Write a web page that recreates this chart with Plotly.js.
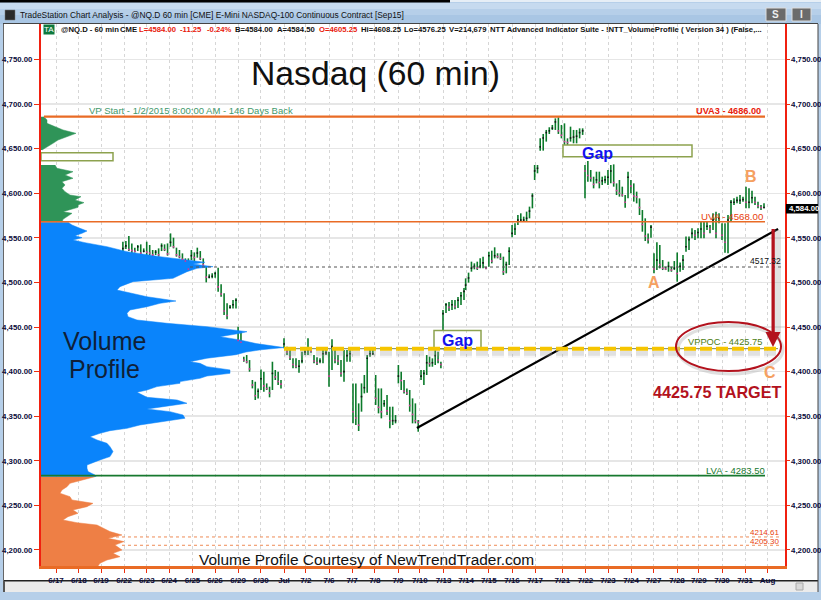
<!DOCTYPE html>
<html><head><meta charset="utf-8">
<script src="https://cdn.plot.ly/plotly-3.0.1.min.js"></script>
<style>html,body{margin:0;padding:0;background:#fff}#c{width:821px;height:600px}</style>
</head><body><div id="c"></div>
<script>
// ---- x axis: tick labels and their position in bar slots
const dateLabels=['6/17','6/18','6/19','6/22','6/23','6/24','6/25','6/26','6/29','6/30','Jul','7/2','7/6','7/7','7/8','7/9','7/10','7/13','7/14','7/15','7/16','7/17','7/21','7/22','7/23','7/24','7/27','7/28','7/29','7/30','7/31','Aug'];
const dateSlots=[5,12.6,20,27.7,35.3,42.7,50.5,58,65.7,73.3,81,88.3,96,103.7,111.3,119,126.3,134.2,141.7,149.3,157,164.7,173.8,181.5,189,196.7,204.2,212,219.3,227,234.7,242.2];
const priceTicks=[4200,4250,4300,4350,4400,4450,4500,4550,4600,4650,4700,4750];

// ---- hourly bars, grouped in unbroken runs
const runStart=[27.3,65.7,81,104,134,141.55,164.55,166.4,181.33,204.33,215];
const runEnd=[65,80,103,133.3,141,163.8,165.5,180.55,203.33,214,241];
const runBars=[39,16,23,32,8,24,2,15,24,11,27];
const highs=[4545.7,4546.5,4552.1,4543.8,4539,4542,4542.7,4538.2,4545.7,4542,4536.4,4536.4,4538.2,4543.8,4542.7,4543.8,4555,4550.2,4539,4536.4,4532.6,4527,4527,4536.4,4533.7,4539,4535.2,4527,4517.7,4509.1,4510.2,4512.1,4516.6,4497.9,4487.8,4476.6,4474.7,4480.3,4482.2,
4450.4,4444.8,4416.8,4418.6,4413,4390.6,4388.7,4381.2,4402.5,4399.9,4386.8,4383.1,4411.1,4401.8,4399.9,4390.6,
4437.3,4428,4424.2,4414.9,4414.9,4413,4422.4,4424.2,4437.3,4424.2,4418.6,4416,4414.9,4424.2,4424.2,4422.4,4436.2,4426.1,4418.6,4413,4424.2,4424.2,4424.2,
4386.8,4386.8,4364.4,4386.8,4396.2,4418.6,4424.2,4424.2,4396.2,4381.2,4381.2,4368.2,4373.8,4360.7,4360.7,4351.3,4407.4,4399.9,4390.6,4381.2,4379.4,4370,4364.4,4345.7,4401.8,4401.8,4418.6,4416.8,4414.9,4424.2,4422.4,4411.1,
4469,4477,4478,4480.3,4480.3,4483.7,4489.3,4493.8,
4504.6,4511,4523.3,4521.4,4523.3,4527,4528.9,4517.7,4534.5,4535.6,4539.4,4532.7,4532.7,4528.9,4523.3,4539.4,4564.4,4566.3,4575.7,4577.5,4573.8,4579.4,4585,4599.9,
4631.7,4631.7,
4661.6,4666.5,4671,4674,4676.6,4684,4685.2,4676.6,4678.4,4661.6,4674.7,4671,4671,4672.8,4672.8,
4631.7,4636.2,4626.1,4618.6,4624.2,4624.2,4618.6,4619.7,4626.1,4631.7,4632.4,4611.1,4614.9,4607.4,4598,4624.2,4614.9,4611.1,4601.8,4594.3,4581.2,4571.9,4555,4564.4,
4532.6,4545,4542,4525.2,4517.7,4523.3,4517.7,4524,4533.7,4522.5,4530.8,
4551.4,4551.4,4560.7,4558.8,4560.7,4568.2,4568.2,4568.2,4564.4,4577.5,4579.4,4577.5,4566.3,4566.3,4575.7,4592.5,4594.3,4596.2,4598.1,4596.2,4607.4,4605.6,4602.9,4596.2,4590.6,4586.9,4588.7];
const lows=[4534.5,4537.5,4535.2,4532.6,4533.7,4535.2,4531.5,4533.7,4530.8,4530,4528.9,4530.8,4528.9,4535.2,4535.2,4530,4540.1,4538.2,4528.9,4527,4523.3,4523.3,4513.9,4525.1,4523.3,4527.8,4525.1,4517.7,4500.1,4504.6,4504.6,4505.3,4489.6,4484,4463.5,4458.6,4470.9,4470.9,4470.9,
4429.8,4429.8,4411.1,4409.3,4399.9,4381.2,4368.2,4370,4379.4,4377.5,4379.4,4371.2,4379.4,4390.6,4385,4381.2,
4426.1,4418.6,4413,4403.7,4403.7,4398.8,4409.3,4418.6,4418.6,4421.2,4409.3,4407.4,4409.3,4409.3,4418.6,4383.1,4401.8,4409.3,4407.4,4394.3,4388.7,4411.1,4411.1,
4342,4340.1,4333.4,4355.1,4375.6,4376.4,4416.8,4418.6,4362.6,4353.2,4347.6,4360.7,4351.3,4336.4,4340.1,4342,4386.8,4379.4,4375.6,4373.8,4355.1,4342,4342,4332.6,4390.6,4385,4396.2,4405.5,4405.5,4407.4,4409.3,4403.7,
4446.7,4465.8,4468,4469,4470,4471.3,4474.7,4480.3,
4491.5,4499.8,4512.1,4514.7,4514,4515.8,4515.8,4514.7,4517.7,4521.4,4527,4527,4525.2,4508.4,4510.2,4519.6,4550.6,4553.2,4564.4,4568.2,4568.2,4568.2,4571.9,4583.1,
4614.9,4622.4,
4647.8,4647.8,4657.9,4666.5,4671,4671,4666.5,4661.6,4654.2,4654.2,4657.9,4656,4656,4661.6,4665.4,
4594.3,4613,4613,4605.5,4611.1,4605.5,4609.3,4611.1,4609.3,4611.1,4607.4,4598,4596.2,4596.2,4583.8,4594.3,4599.9,4590.6,4588.7,4575.6,4556.9,4546.5,4543.8,4550.2,
4510.2,4513.9,4515.8,4513.9,4513.9,4512,4512,4513.9,4500.9,4512,4513.9,
4534.5,4536.4,4549.5,4547.6,4549.5,4549.5,4549.5,4558.8,4555.1,4558.8,4549.5,4566.3,4547.6,4533.4,4532.7,4568.2,4586.9,4588.7,4588,4590.6,4583.1,4583.1,4588.7,4586.9,4583.1,4581.3,4583.1];
const closes=[4538,4541,4537,4536,4535,4540,4533,4535,4534,4533,4531,4534,4531,4541,4537,4532,4545,4540,4531,4529,4526,4524,4515,4530,4528,4533,4527,4520,4506,4506,4507,4510,4495,4487,4468,4463,4472,4475,4480,
4435,4433,4413,4411,4403,4385,4373,4378,4392,4384,4381,4376,4398,4394,4389,4386,
4431,4422,4416,4408,4406,4406,4412,4422,4424,4423,4412,4410,4412,4420,4421,4395,4428,4413,4412,4398,4400,4418,4420,
4355,4348,4340,4372,4382,4415,4420,4420,4370,4360,4355,4364,4356,4345,4345,4345,4395,4390,4378,4376,4362,4352,4345,4343,4395,4398,4410,4409,4410,4418,4413,4408,
4465,4475,4472,4475,4473,4480,4485,4490,
4497,4505,4516,4518,4516,4518,4522,4516,4530,4524,4530,4529,4527,4512,4520,4535,4555,4560,4570,4570,4570,4572,4580,4597,
4625,4628,
4652,4662,4668,4670,4673,4680,4670,4665,4658,4657,4662,4663,4664,4668,4670,
4625,4620,4617,4610,4615,4612,4614,4615,4618,4625,4612,4603,4600,4598,4590,4618,4608,4597,4596,4584,4565,4552,4548,4562,
4515,4525,4520,4516,4515,4518,4514,4516,4510,4518,4525,
4540,4548,4555,4553,4556,4560,4555,4563,4560,4570,4555,4572,4553,4545,4570,4590,4590,4592,4592,4593,4590,4590,4595,4590,4586,4584,4584];

// ---- volume profile outline (price, volume) per value-area zone
const upperPrice=[4685.9,4682.2,4678.4,4674.7,4671,4667.2,4663.5,4659.7,4656,4652.3,4648.5];
const upperVol=[3,6,6,14,22,35,26,17,12,6,1];
const greenPrice=[4631.7,4628,4624.2,4620.5,4616.8,4613,4609.3,4605.5,4601.8,4598,4596.2,4592.5,4589.5,4586.9,4584.2,4582,4579.4,4577.5,4573.8,4570.8,4567.4];
const greenVol=[14,16,32,24,32,21,24,21,24,29,40,34,43,37,37,29,22,31,26,22,21];
const bluePrice=[4567.4,4564.4,4560.7,4557.7,4555.1,4552.5,4550.2,4547.6,4544.6,4540.1,4534.5,4528.9,4525.2,4522.6,4520.7,4517.7,4515.8,4512.1,4508.4,4504.6,4500.9,4495.3,4491.5,4488.5,4484,4479.2,4476.6,4472.8,4469.1,4465.4,4461.6,4457.9,4454.2,4450.4,4446.7,4444.8,4442.9,4439.2,4435.5,4431.5,4427,4424.5,4422,4419,4415,4411.2,4409.3,4405.6,4401.9,4398.1,4395.1,4392.5,4388.8,4386.9,4383.2,4379.4,4376.8,4373.8,4371.2,4368.2,4364.5,4360.7,4358.1,4355.1,4351.4,4347.7,4343.9,4340.2,4336.4,4333.8,4330.8,4327.1,4323.4,4319.6,4315.9,4310.3,4304.7,4301,4295.3,4291.6,4287.9,4284.1,4282.2];
const blueVol=[27,31,39,46,41,34,41,32,44,66,86,119,146,164,152,172,156,146,139,132,92,79,76,89,106,135,119,106,89,86,87,96,126,166,196,206,199,179,199,215,243,220,205,195,166,149,159,166,189,189,166,159,139,139,116,106,96,102,106,136,146,122,106,129,142,144,122,99,86,69,59,49,56,66,69,72,69,59,46,46,47,54,55];
const orangePrice=[4282.2,4278.5,4274.8,4271,4267.3,4263.6,4259.8,4256.1,4252.3,4248.6,4244.9,4241.1,4237.4,4233.6,4230.6,4228,4224.3,4220.6,4216.8,4213.1,4209.4,4205.6,4200,4196.3,4192.5,4188.8,4185.1,4182.1];
const orangeVol=[54,42,29,26,21,19,29,31,52,46,32,37,27,22,36,56,62,69,81,67,83,74,81,72,79,66,59,57];
const volPerSlot=3;

// ---- levels and drawing
const levelUVA3=4686, levelUVA=4568, levelPOC=4425.75, levelLVA=4283.5, levelMid=4517.32, levelLow1=4214.61, levelLow2=4205.3, lastPrice=4584;
const trendSlot=[125.3,245.7], trendPrice=[4336.7,4560];

const X=x=>(x-41)/744, Y=y=>(566-y)/542;
const S=x=>(x-41)/3;
const FONT='Liberation Sans, Arial, sans-serif';

// bar positions
const barSlot=[];
runBars.forEach((n,i)=>{for(let k=0;k<n;k++)barSlot.push(n>1?runStart[i]+(runEnd[i]-runStart[i])*k/(n-1):runStart[i]);});
const closeColors=closes.map((c,i)=>i&&c<closes[i-1]?'#d4349a':'#111111');

function zone(prices,vols,color){return {type:'scatter',mode:'lines',x:vols.map(v=>v/volPerSlot),y:prices,fill:'tozerox',fillcolor:color,line:{color:color,width:0.5},hoverinfo:'skip',showlegend:false,xaxis:'x',yaxis:'y'};}
const traces=[
 zone(upperPrice,upperVol,'#2f9458'),
 zone(greenPrice,greenVol,'#2f9458'),
 zone(bluePrice,blueVol,'#0a84fb'),
 zone(orangePrice,orangeVol,'#ee7f45'),
 {type:'scatter',mode:'lines',x:trendSlot,y:trendPrice,line:{color:'#000',width:2.2},hoverinfo:'skip',showlegend:false},
 {type:'ohlc',x:barSlot,open:closes,high:highs,low:lows,close:closes,tickwidth:0,
  increasing:{line:{color:'#0b7a2a',width:1.6}},decreasing:{line:{color:'#0b7a2a',width:1.6}},hoverinfo:'skip',showlegend:false},
 {type:'scatter',mode:'markers',x:barSlot,y:closes,marker:{symbol:'square',size:1.6,color:closeColors},hoverinfo:'skip',showlegend:false},
 {type:'scatter',mode:'markers',x:[barSlot[barSlot.length-1]],y:[lastPrice],yaxis:'y2',marker:{size:1,color:'rgba(0,0,0,0)'},hoverinfo:'skip',showlegend:false}
];

function pRect(x0,y0,x1,y1,fill,line,lw,layer){return {type:'rect',xref:'paper',yref:'paper',x0:X(x0),x1:X(x1),y0:Y(y0),y1:Y(y1),fillcolor:fill,line:{color:line||fill,width:lw==null?0:lw},layer:layer||'below'};}
function hLevel(price,x0,x1,color,w,dash,op){return {type:'line',xref:'x',yref:'y',x0:S(x0),x1:S(x1),y0:price,y1:price,line:{color:color,width:w,dash:dash||'solid'},opacity:op==null?1:op,layer:'above'};}
const shadowPrice=levelPOC-5.2;
const shapes=[
 // window chrome
 pRect(0,0,821,24,'#b6cfe9'),
 pRect(0,3,821,9,'#c6daef'),
 pRect(0,15,821,24,'#a9c6e4'),
 pRect(0,0,450,2.5,'#000'),
 pRect(450,0,821,2,'#e6eef6'),
 pRect(0,24,3,600,'#b6cfe9'),
 pRect(818,24,821,600,'#b6cfe9'),
 pRect(0,592,821,600,'#b6cfe9'),
 pRect(3,581,818,592,'#ebebeb'),
 pRect(3,580,818,581.5,'#222'),
 pRect(3,23,818,24,'#444'),
 pRect(3,24,4,581,'#666'),
 pRect(817.5,24,818.5,592,'#444'),
 pRect(3,581,5,592,'#555'),
 pRect(796,583,803,590,'#d9d9d9','#aaa',1),
 pRect(766,8,786,21,'#6b6b6b','#ddd',1,'above'),
 pRect(792,8,811,21,'#6b6b6b','#ddd',1,'above'),
 pRect(5,10,15,20,'#2a2a2a','#777',0.5,'above'),
 // gap boxes
 {type:'rect',xref:'x',yref:'y',x0:S(41),x1:S(113),y0:4636.5,y1:4645.5,fillcolor:'rgba(255,255,255,0.9)',line:{color:'#8da24f',width:1.5},layer:'above'},
 {type:'rect',xref:'x',yref:'y',x0:S(563),x1:S(692),y0:4641,y1:4654,fillcolor:'rgba(255,255,255,0.9)',line:{color:'#8da24f',width:1.5},layer:'above'},
 {type:'rect',xref:'x',yref:'y',x0:S(434),x1:S(481),y0:levelPOC,y1:4446,fillcolor:'rgba(255,255,255,0)',line:{color:'#8da24f',width:1.5},layer:'above'},
 // levels
 hLevel(levelUVA3,44,765,'#e96b25',2.2),
 hLevel(levelUVA,41,765,'#e96b25',1.6),
 hLevel(levelMid,190,782,'#555',1,'dot'),
 hLevel(levelLVA,41,765,'#17792f',1.8),
 hLevel(levelLow1,110,780,'#ee8a55',1,'dot'),
 hLevel(levelLow2,122,780,'#ee8a55',1,'dot'),
 hLevel(shadowPrice,284,778,'#aaa',9,'12px,4px',0.1),
 hLevel(shadowPrice,284,778,'#999',5,'12px,4px',0.22),
 hLevel(levelPOC,284,778,'#7c8a55',1),
 hLevel(levelPOC,284,778,'#f6c500',4,'12px,4px'),
 // target ellipse
 {type:'circle',xref:'paper',yref:'paper',x0:X(678),x1:X(783),y0:Y(374),y1:Y(325),line:{color:'#bbb',width:3},opacity:0.45,layer:'above'},
 {type:'circle',xref:'paper',yref:'paper',x0:X(676),x1:X(781),y0:Y(371),y1:Y(322),line:{color:'#b3121d',width:2},layer:'above'},
 // target arrow
 pRect(775,230,781,340,'rgba(150,150,150,0.28)',null,0,'above'),
 pRect(771.5,229,774.8,334,'#b3121d',null,0,'above'),
 {type:'path',xref:'paper',yref:'paper',path:`M ${X(765.5)} ${Y(332)} L ${X(780.5)} ${Y(332)} L ${X(773)} ${Y(347)} Z`,fillcolor:'#b3121d',line:{color:'#b3121d',width:0},layer:'above'},
 // last price tag
 pRect(786,204,818,213.5,'#000',null,0,'above')
];

function note(text,x,y,size,color,opt){return Object.assign({xref:'paper',yref:'paper',x:X(x),y:Y(y),text:text,showarrow:false,xanchor:'left',yanchor:'middle',borderpad:0,font:{family:FONT,size:size,color:color}},opt||{});}
const bold=t=>'<b>'+t+'</b>';
const HS=7.7;
const annotations=[
 note('TradeStation Chart Analysis - @NQ.D 60 min [CME] E-Mini NASDAQ-100 Continuous Contract [Sep15]',19,15,8.4,'#111'),
 note(bold('S'),771,14.5,10,'#eee'),
 note(bold('I'),799,14.5,10,'#eee'),
 note('TA',43,30,8,'#fff',{bgcolor:'#0e7a3e'}),
 note(bold('@NQ.D - 60 min'),60,30,HS,'#111'),
 note(bold('CME'),119,30,HS,'#111'),
 note(bold('L=4584.00'),138,30,HS,'#e8200c'),
 note(bold('-11.25'),179,30,HS,'#e8200c'),
 note(bold('-0.24%'),206,30,HS,'#e8200c'),
 note(bold('B=4584.00'),234,30,HS,'#111'),
 note(bold('A=4584.50'),276,30,HS,'#111'),
 note(bold('O=4605.25'),318,30,HS,'#e8200c'),
 note(bold('Hi=4608.25'),360,30,HS,'#111'),
 note(bold('Lo=4576.25'),403,30,HS,'#111'),
 note(bold('V=214,679'),448,30,HS,'#111'),
 note(bold('NTT Advanced Indicator Suite - !NTT_VolumeProfile ( Version 34 ) (False,...'),489,30,HS,'#111'),
 note('Nasdaq (60 min)',250,73,33.7,'#111'),
 note('VP Start - 1/2/2015 8:00:00 AM - 146 Days Back',88,110.5,9.5,'#3f9a6b'),
 note(bold('UVA3 - 4686.00'),695,110.5,9.2,'#e8200c'),
 note('UVA - 4568.00',700,216,9.7,'#e8400c'),
 note('4517.32',749,261,8.5,'#111'),
 note('LVA - 4283.50',705,470.5,9.5,'#17792f'),
 note('4214.61',749,532.5,8,'#e8400c'),
 note('4205.30',749,541,8,'#e8400c'),
 note('VPPOC - 4425.75',687,342,9.3,'#4c7d12'),
 note(bold('Gap'),581,153,16,'#1212ee'),
 note(bold('Gap'),441,340,16,'#1212ee'),
 note('Volume',62,341,25,'#0f1f38'),
 note('Profile',68,369,25,'#0f1f38'),
 note(bold('A'),647,282,16,'#f5a060'),
 note(bold('B'),744,177,16,'#f5a060'),
 note(bold('C'),763,372,16,'#f5a060'),
 note(bold('4425.75 TARGET'),652,392,16.2,'#b3121d'),
 note('Volume Profile Courtesy of NewTrendTrader.com',198,559.5,15.45,'#111'),
 note(bold('4,584.00'),788,208.7,7.8,'#fff')
];

const yRange=[4182.05,4789.8];
const priceLabels=priceTicks.map(p=>bold(p.toLocaleString('en-US',{minimumFractionDigits:2})));
const layout={
 width:821,height:600,autosize:false,
 margin:{l:41,r:36,t:24,b:34,pad:0},
 paper_bgcolor:'#fff',plot_bgcolor:'rgba(255,255,255,0)',
 showlegend:false,hovermode:false,
 font:{family:FONT,size:8,color:'#0a0a3a'},
 xaxis:{type:'linear',range:[0,248],tickmode:'array',tickvals:dateSlots,ticktext:dateLabels.map(bold),
  ticks:'outside',ticklen:4,tickcolor:'#ee3010',tickwidth:1,tickfont:{family:FONT,size:8,color:'#0a0a3a'},
  showgrid:true,gridcolor:'#d6d6d6',griddash:'dot',gridwidth:1,zeroline:false,
  showline:true,linecolor:'#e96b25',linewidth:3,rangeslider:{visible:false},fixedrange:true},
 yaxis:{type:'linear',range:yRange,tickmode:'array',tickvals:priceTicks,ticktext:priceLabels,
  ticks:'outside',ticklen:5,tickcolor:'#ee3010',tickwidth:1,tickfont:{family:FONT,size:7.8,color:'#0a0a3a'},
  showgrid:true,gridcolor:'#e6e6e6',gridwidth:1.5,zeroline:false,
  showline:true,linecolor:'#f02010',linewidth:2,fixedrange:true},
 yaxis2:{type:'linear',overlaying:'y',side:'right',range:yRange,tickmode:'array',tickvals:priceTicks,ticktext:priceLabels,
  ticks:'outside',ticklen:3,tickcolor:'#ee3010',tickwidth:1,tickfont:{family:FONT,size:7.8,color:'#0a0a3a'},
  showgrid:false,zeroline:false,showline:true,linecolor:'#f02010',linewidth:1.5,fixedrange:true},
 shapes:shapes,annotations:annotations
};
Plotly.newPlot('c',traces,layout,{displayModeBar:false,staticPlot:true});
</script></body></html>
